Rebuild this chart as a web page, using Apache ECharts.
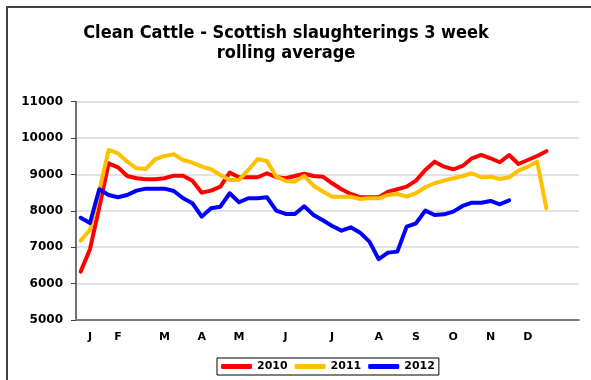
<!DOCTYPE html>
<html>
<head>
<meta charset="utf-8">
<script src="https://cdn.jsdelivr.net/npm/echarts@6/dist/echarts.min.js"></script>
<style>
  html, body { margin: 0; padding: 0; background: #fff; }
  #chart { width: 591px; height: 380px; }
</style>
</head>
<body>
<div id="chart"></div>
<script>
// Weekly category slots; only the week where each month starts carries a label
const weekLabels = [
  '', 'J', '', '', 'F', '', '', '', '', 'M', '', '', '', 'A', '', '', '', 'M',
  '', '', '', '', 'J', '', '', '', '', 'J', '', '', '', '', 'A', '', '', '',
  'S', '', '', '', 'O', '', '', '', 'N', '', '', '', 'D', '', '', '', '', ''
];

const yTicks = [5000, 6000, 7000, 8000, 9000, 10000, 11000];

// 3 week rolling average of clean cattle slaughterings in Scotland
const y2010 = [
  6330, 6945, 8100, 9307, 9197, 8959, 8896, 8868, 8868, 8896, 8967, 8967,
  8830, 8500, 8555, 8665, 9050, 8923, 8923, 8923, 9033, 8923, 8896, 8959,
  9020, 8959, 8940, 8758, 8593, 8464, 8374, 8374, 8374, 8527, 8593, 8665,
  8830, 9124, 9352, 9214, 9143, 9234, 9445, 9536, 9445, 9335, 9536, 9288,
  9398, 9508, 9640
];
const y2011 = [
  7180, 7475, 8550, 9673, 9582, 9352, 9170, 9151, 9418, 9508, 9555, 9398,
  9324, 9214, 9143, 8986, 8849, 8849, 9124, 9426, 9371, 8940, 8821, 8802,
  8960, 8690, 8530, 8390, 8390, 8390, 8327, 8346, 8346, 8437, 8464, 8390,
  8484, 8648, 8758, 8830, 8896, 8959, 9033, 8923, 8940, 8877, 8923, 9105,
  9214, 9352, 8071
];
const y2012 = [
  7810, 7665, 8595, 8437, 8374, 8437, 8555, 8610, 8610, 8610, 8547, 8346,
  8209, 7841, 8071, 8115, 8484, 8236, 8346, 8346, 8374, 8005, 7915, 7915,
  8125, 7887, 7740, 7585, 7456, 7548, 7401, 7154, 6670, 6852, 6879, 7566,
  7659, 8005, 7887, 7905, 7978, 8135, 8225, 8225, 8272, 8181, 8290
];

const years = ['2010', '2011', '2012'];
const colours = ['#ff0000', '#ffc000', '#0000ff'];
const seriesData = [y2010, y2011, y2012];

const FONT = 'DejaVu Sans';

const chart = echarts.init(document.getElementById('chart'), null, { renderer: 'canvas' });

chart.setOption({
  backgroundColor: '#ffffff',
  animation: false,
  title: {
    text: 'Clean Cattle - Scottish slaughterings 3 week\nrolling average',
    left: 281,
    top: 18,
    textAlign: 'center',
    textStyle: {
      fontFamily: 'DejaVu Sans Condensed',
      fontWeight: 'bold',
      fontSize: 18,
      lineHeight: 20,
      color: '#000'
    }
  },
  graphic: [{
    type: 'rect',
    silent: true,
    shape: { x: 7, y: 7, width: 700, height: 500 },
    style: { fill: 'none', stroke: '#404040', lineWidth: 2 }
  }],
  legend: {
    data: years,
    left: 217,
    top: 358,
    orient: 'horizontal',
    icon: 'roundRect',
    itemWidth: 31,
    itemHeight: 5,
    itemGap: 7,
    padding: [3, 4, 3, 4],
    borderColor: '#000',
    borderWidth: 1,
    textStyle: {
      fontFamily: FONT,
      fontWeight: 'bold',
      fontSize: 11,
      color: '#000'
    }
  },
  grid: {
    left: 76,
    right: 12,
    top: 101.7,
    bottom: 60,
    containLabel: false
  },
  xAxis: {
    type: 'category',
    data: weekLabels,
    boundaryGap: true,
    axisLine: { lineStyle: { color: '#7f7f7f', width: 2 } },
    axisTick: { show: false },
    axisLabel: {
      interval: 0,
      margin: 12,
      fontFamily: FONT,
      fontWeight: 'bold',
      fontSize: 11,
      color: '#000'
    },
    splitLine: { show: false }
  },
  yAxis: {
    type: 'value',
    min: yTicks[0],
    max: yTicks[yTicks.length - 1],
    interval: 1000,
    axisLine: { show: true, lineStyle: { color: '#404040', width: 1.5 } },
    axisTick: { show: true, inside: false, length: 5, lineStyle: { color: '#404040', width: 1 } },
    axisLabel: {
      margin: 13,
      fontFamily: FONT,
      fontWeight: 'bold',
      fontSize: 12,
      color: '#000',
      formatter: (v) => String(v)
    },
    splitLine: { show: true, lineStyle: { color: '#d9d9d9', width: 1.5 } }
  },
  series: years.map((name, i) => ({
    name: name,
    type: 'line',
    data: seriesData[i],
    symbol: 'none',
    smooth: false,
    color: colours[i],
    lineStyle: { color: colours[i], width: 4, cap: 'round', join: 'round' },
    emphasis: { disabled: true }
  }))
});
</script>
</body>
</html>
